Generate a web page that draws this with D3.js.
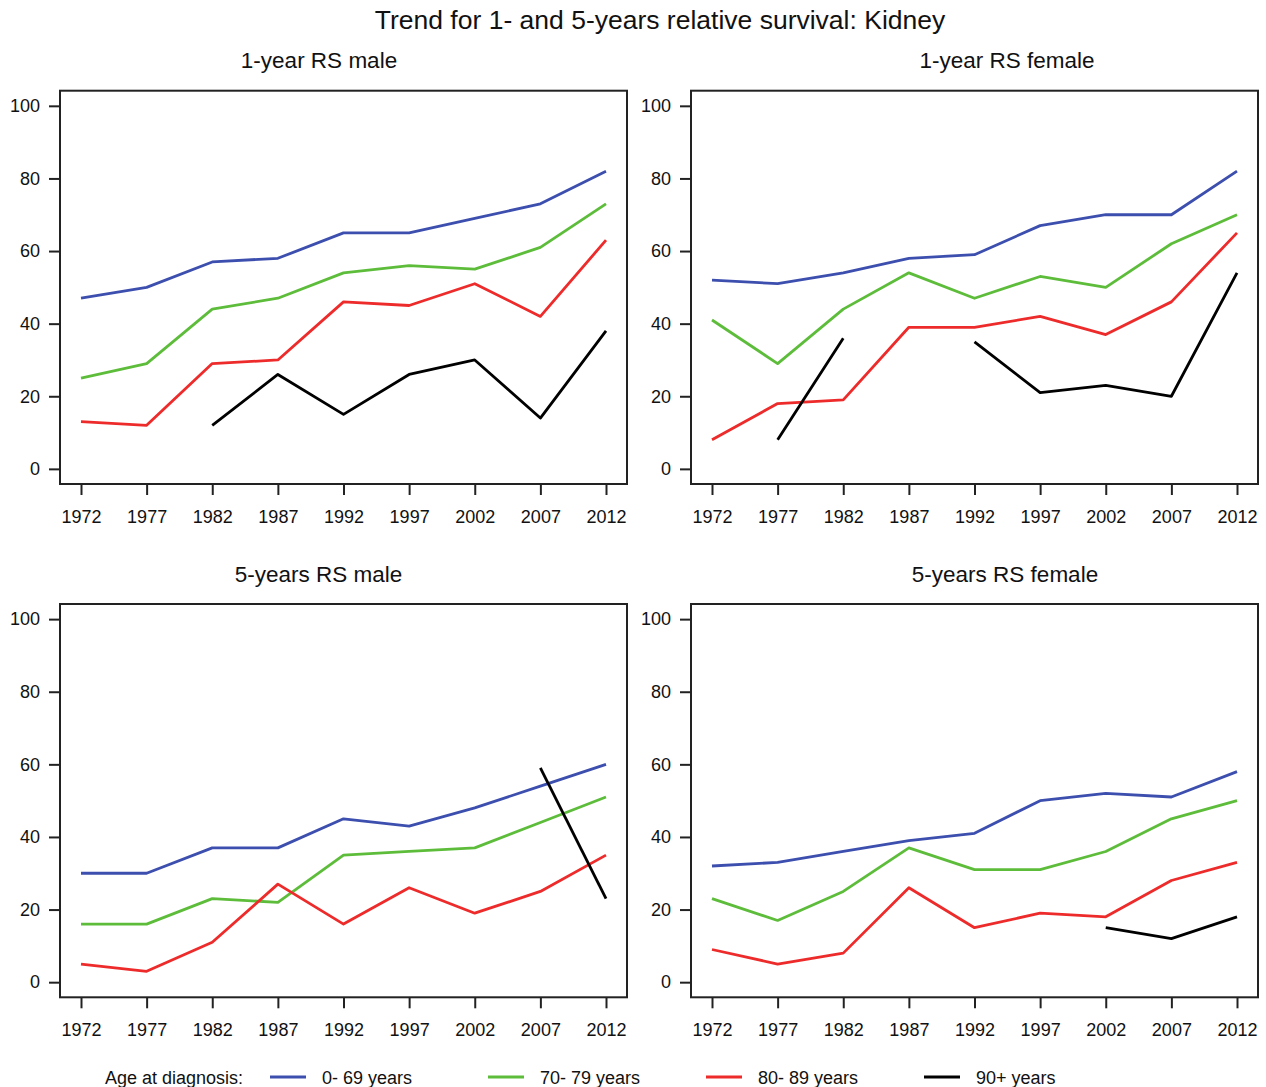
<!DOCTYPE html>
<html><head><meta charset="utf-8">
<script src="https://cdn.jsdelivr.net/npm/d3@7"></script>
<style>body{margin:0;background:#fff}svg{display:block}text{font-family:"Liberation Sans",Arial,sans-serif;fill:#111}</style>
</head><body><svg id="c" width="1266" height="1087"></svg>
<script>
const years = [1972,1977,1982,1987,1992,1997,2002,2007,2012];
const yTicks = [0,20,40,60,80,100];
const groups = ["0- 69 years","70- 79 years","80- 89 years","90+ years"];
const colors = ["#3d4fae","#5dbd3b","#ee2b2b","#000000"];
const panelTitles = ["1-year RS male","1-year RS female","5-years RS male","5-years RS female"];
const mainTitle = "Trend for 1- and 5-years relative survival: Kidney";
const legendLabel = "Age at diagnosis:";

// 1-year RS male
const m1_069 = [47,50,57,58,65,65,69,73,82];
const m1_7079 = [25,29,44,47,54,56,55,61,73];
const m1_8089 = [13,12,29,30,46,45,51,42,63];
const m1_90 = [null,null,12,26,15,26,30,14,38];
// 1-year RS female
const f1_069 = [52,51,54,58,59,67,70,70,82];
const f1_7079 = [41,29,44,54,47,53,50,62,70];
const f1_8089 = [8,18,19,39,39,42,37,46,65];
const f1_90 = [null,8,36,null,35,21,23,20,54];
// 5-years RS male
const m5_069 = [30,30,37,37,45,43,48,54,60];
const m5_7079 = [16,16,23,22,35,36,37,44,51];
const m5_8089 = [5,3,11,27,16,26,19,25,35];
const m5_90 = [null,null,null,null,null,null,null,59,23];
// 5-years RS female
const f5_069 = [32,33,36,39,41,50,52,51,58];
const f5_7079 = [23,17,25,37,31,31,36,45,50];
const f5_8089 = [9,5,8,26,15,19,18,28,33];
const f5_90 = [null,null,null,null,null,null,15,12,18];

const panelSeries = [
  [m1_069,m1_7079,m1_8089,m1_90],
  [f1_069,f1_7079,f1_8089,f1_90],
  [m5_069,m5_7079,m5_8089,m5_90],
  [f5_069,f5_7079,f5_8089,f5_90]
];

const svg = d3.select("#c");
svg.append("text").attr("x",660).attr("y",29).attr("text-anchor","middle")
  .style("font-size","26.5px").text(mainTitle);

const frames = [
  {x0:60,x1:627,y0:90.7,y1:484,tx:319},
  {x0:691,x1:1258,y0:90.7,y1:484,tx:1007},
  {x0:60,x1:627,y0:604,y1:997.3,tx:318.5},
  {x0:691,x1:1258,y0:604,y1:997.3,tx:1005}
];

frames.forEach((f,i)=>{
  const x = d3.scaleLinear().domain([1972-1.6,2012+1.6]).range([f.x0,f.x1]);
  const y = d3.scaleLinear().domain([-4.167,104.167]).range([f.y1,f.y0]);
  const g = svg.append("g");
  g.append("text").attr("x",f.tx).attr("y",f.y0-22.5).attr("text-anchor","middle")
    .style("font-size","22.5px").text(panelTitles[i]);
  // lines
  const line = d3.line().defined(d=>d[1]!=null).x(d=>x(d[0])).y(d=>y(d[1]));
  panelSeries[i].forEach((s,k)=>{
    g.append("path").datum(years.map((yr,j)=>[yr,s[j]]))
      .attr("d",line).attr("fill","none").attr("stroke",colors[k])
      .attr("stroke-width",2.8).attr("stroke-linejoin","round");
  });
  // frame
  g.append("rect").attr("x",f.x0).attr("y",f.y0).attr("width",f.x1-f.x0).attr("height",f.y1-f.y0)
    .attr("fill","none").attr("stroke","#222").attr("stroke-width",2);
  // axes
  const xa = g.append("g").attr("transform",`translate(0,${f.y1})`)
    .call(d3.axisBottom(x).tickValues(years).tickFormat(d3.format("d")).tickSize(11).tickPadding(15));
  const ya = g.append("g").attr("transform",`translate(${f.x0},0)`)
    .call(d3.axisLeft(y).tickValues(yTicks).tickSize(11).tickPadding(9));
  [xa,ya].forEach(a=>{
    a.select(".domain").remove();
    a.selectAll("line").attr("stroke","#222").attr("stroke-width",2);
    a.selectAll("text").style("font-size","18px").attr("fill","#111")
      .style("font-family","'Liberation Sans',Arial,sans-serif");
  });
});

// legend
const lg = svg.append("g");
lg.append("text").attr("x",105).attr("y",1083.5).style("font-size","18px").text(legendLabel);
const lx = [270,488,706,924];
groups.forEach((gname,k)=>{
  lg.append("line").attr("x1",lx[k]).attr("x2",lx[k]+36).attr("y1",1077).attr("y2",1077)
    .attr("stroke",colors[k]).attr("stroke-width",2.8);
  lg.append("text").attr("x",lx[k]+52).attr("y",1083.5).style("font-size","18px").text(gname);
});
</script></body></html>
